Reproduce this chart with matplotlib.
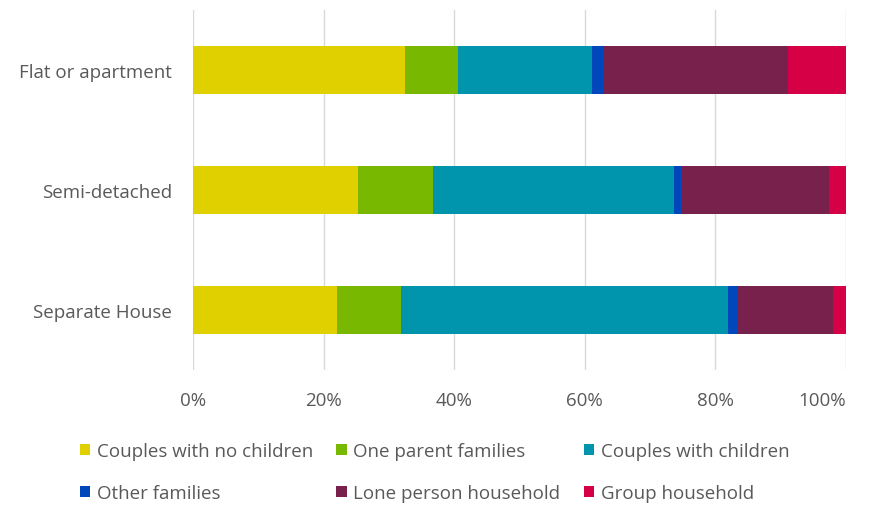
import numpy as np
import matplotlib
matplotlib.use("Agg")
import matplotlib.pyplot as plt

# Dwelling types (top to bottom as shown)
dwellings = ["Flat or apartment", "Semi-detached", "Separate House"]

# Household composition shares (%) per dwelling type
couples_no_children = [32.5, 25.2, 22.1]
one_parent = [8.1, 11.6, 9.8]
couples_children = [20.5, 36.8, 50.1]
other_families = [1.8, 1.2, 1.4]
lone_person = [28.2, 22.6, 14.6]
group_household = [8.9, 2.6, 2.0]

series_names = ["Couples with no children", "One parent families", "Couples with children",
                "Other families", "Lone person household", "Group household"]
colors = ["#E0D000", "#78B800", "#0095AC", "#0047BB", "#78214C", "#D50045"]

plt.rcParams['font.family'] = ['Open Sans', 'DejaVu Sans']
text_col = "#595959"
fs = 13.5

fig = plt.figure(figsize=(8.71, 5.06), dpi=100)
ax = fig.add_axes([193 / 871, 1 - 371 / 506, 653 / 871, 360 / 506])

series = [couples_no_children, one_parent, couples_children,
          other_families, lone_person, group_household]
y = np.arange(len(dwellings))
left = np.zeros(len(dwellings))
handles = []
for vals, name, c in zip(series, series_names, colors):
    vals = np.array(vals) / 100
    b = ax.barh(y, vals, left=left, height=0.4, color=c, label=name)
    handles.append(b)
    left += vals

ax.set_ylim(2.5, -0.5)
ax.set_xlim(0, 1)
ax.set_yticks(y)
ax.set_yticklabels(dwellings)
ax.set_xticks(np.linspace(0, 1, 6))
xlabels = ax.set_xticklabels([f"{int(v)}%" for v in np.linspace(0, 100, 6)])
xlabels[-1].set_horizontalalignment("right")
ax.tick_params(axis="both", length=0, labelsize=fs, labelcolor=text_col)
ax.tick_params(axis="y", pad=15)
ax.tick_params(axis="x", pad=15)
ax.grid(axis="x", color="#D9D9D9", linewidth=1)
ax.set_axisbelow(True)
for s in ax.spines.values():
    s.set_visible(False)

# reorder so legend reads row-wise
order = [0, 3, 1, 4, 2, 5]
leg = fig.legend([handles[i] for i in order], [series_names[i] for i in order],
                 ncol=3, loc="upper left", bbox_to_anchor=(63 / 871, 1 - 426 / 506),
                 frameon=False, fontsize=fs, handlelength=0.55, handleheight=0.55,
                 handletextpad=0.35, columnspacing=1.25, labelspacing=1.3)
for t in leg.get_texts():
    t.set_color(text_col)

fig.savefig("out.png", dpi=100)
